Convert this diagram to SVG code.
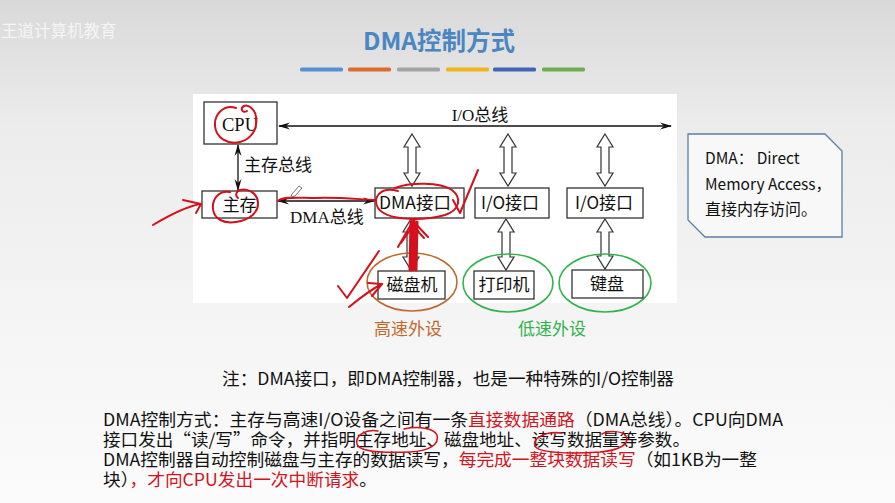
<svg xmlns="http://www.w3.org/2000/svg" width="895" height="503" viewBox="0 0 895 503">
<defs>
<linearGradient id="bg" x1="0" y1="0" x2="0" y2="1">
<stop offset="0" stop-color="#d9d9d9"/>
<stop offset="0.25" stop-color="#ececec"/>
<stop offset="0.7" stop-color="#f6f6f6"/>
<stop offset="1" stop-color="#fbfbfb"/>
</linearGradient>
<marker id="ah" viewBox="0 0 12 8" refX="11" refY="4" markerWidth="12" markerHeight="8" markerUnits="userSpaceOnUse" orient="auto-start-reverse">
<path d="M0,0.5 L12,4 L0,7.5 L4,4 z" fill="#111"/>
</marker>
</defs>
<style>
.ser{font-family:"Liberation Serif","Noto Sans CJK SC",serif;fill:#111}
.san{font-family:"Noto Sans CJK SC","Liberation Sans",sans-serif;fill:#111}
.box{fill:#fff;stroke:#333;stroke-width:1.3}
.bus{stroke:#111;stroke-width:1.3;fill:none}
.harr{fill:#fff;stroke:#333;stroke-width:1.2}
.red{fill:none;stroke:#d4101c;stroke-width:2;stroke-linecap:round;stroke-linejoin:round}
.redt{fill:none;stroke:#d4101c;stroke-width:1.5;stroke-linecap:round}
.body{font-family:"Noto Sans CJK SC","Liberation Sans",sans-serif;font-size:17px;fill:#111}
.rt{fill:#d0151f}
</style>
<rect width="895" height="503" fill="url(#bg)"/>
<text x="1" y="37" font-family="Noto Sans CJK SC,sans-serif" font-size="16.5" fill="#f5f5f5">王道计算机教育</text>

<g id="title">
<text x="439" y="50" text-anchor="middle" font-family="Noto Sans CJK SC,Liberation Sans,sans-serif" font-weight="bold" font-size="24.5" fill="#4a86c2">DMA控制方式</text>
<rect x="300" y="67.5" width="43" height="4" rx="1.5" fill="#5591cf"/>
<rect x="348" y="67.5" width="43" height="4" rx="1.5" fill="#de6a2e"/>
<rect x="397" y="67.5" width="43" height="4" rx="1.5" fill="#a3a3a3"/>
<rect x="446" y="67.5" width="43" height="4" rx="1.5" fill="#f0b41c"/>
<rect x="493" y="67.5" width="43" height="4" rx="1.5" fill="#3f66b6"/>
<rect x="542" y="67.5" width="43" height="4" rx="1.5" fill="#6cb04d"/>
</g>

<rect x="193" y="94" width="484" height="209" fill="#fff"/>

<g id="connectors">
<line class="bus" x1="279" y1="126" x2="671" y2="126" marker-start="url(#ah)" marker-end="url(#ah)"/>
<line class="bus" x1="238" y1="145" x2="238" y2="190" marker-start="url(#ah)" marker-end="url(#ah)"/>
<line class="bus" x1="278" y1="201" x2="374" y2="201" marker-start="url(#ah)" marker-end="url(#ah)"/>
<path class="harr" d="M412,134 L420,147 L416,147 L416,173 L420,173 L412,186 L404,173 L408,173 L408,147 L404,147 Z"/>
<path class="harr" d="M508,134 L516,147 L512,147 L512,173 L516,173 L508,186 L500,173 L504,173 L504,147 L500,147 Z"/>
<path class="harr" d="M605,134 L613,147 L609,147 L609,173 L613,173 L605,186 L597,173 L601,173 L601,147 L597,147 Z"/>
<path class="harr" d="M411,219 L419,232 L415,232 L415,257 L419,257 L411,270 L403,257 L407,257 L407,232 L403,232 Z"/>
<path class="harr" d="M506,219 L514,232 L510,232 L510,257 L514,257 L506,270 L498,257 L502,257 L502,232 L498,232 Z"/>
<path class="harr" d="M605,219 L613,232 L609,232 L609,256 L613,256 L605,269 L597,256 L601,256 L601,232 L597,232 Z"/>
<text class="ser" x="480" y="121" text-anchor="middle" font-size="17">I/O总线</text>
<text class="ser" x="244" y="171" font-size="17">主存总线</text>
<text class="ser" x="290" y="223" font-size="17">DMA总线</text>
</g>

<g id="cpu">
<rect class="box" x="204" y="102" width="73" height="42"/>
<text class="ser" x="240" y="131" text-anchor="middle" font-size="18.5">CPU</text>
</g>
<g id="memory">
<rect class="box" x="202" y="191" width="75" height="27"/>
<text class="ser" x="239.5" y="211" text-anchor="middle" font-size="17">主存</text>
</g>
<g id="dma-interface">
<rect class="box" x="375" y="188" width="89" height="30"/>
<text class="san" x="415" y="209" text-anchor="middle" font-size="17.5">DMA接口</text>
</g>
<g id="io-interface-1">
<rect class="box" x="475" y="188" width="74" height="30"/>
<text class="san" x="510" y="209" text-anchor="middle" font-size="17">I/O接口</text>
</g>
<g id="io-interface-2">
<rect class="box" x="567" y="188" width="76" height="30"/>
<text class="san" x="604" y="209" text-anchor="middle" font-size="17">I/O接口</text>
</g>
<g id="disk">
<ellipse cx="412" cy="282" rx="45" ry="29" fill="none" stroke="#c0692c" stroke-width="1.6"/>
<rect class="box" x="378" y="271" width="67" height="28"/>
<text class="ser" x="412" y="291" text-anchor="middle" font-size="17">磁盘机</text>
</g>
<g id="printer">
<ellipse cx="508" cy="283" rx="45" ry="29" fill="none" stroke="#2fb34c" stroke-width="1.6"/>
<rect class="box" x="474" y="271" width="60" height="28"/>
<text class="ser" x="504" y="291" text-anchor="middle" font-size="17">打印机</text>
</g>
<g id="keyboard">
<ellipse cx="605" cy="283" rx="46" ry="29" fill="none" stroke="#2fb34c" stroke-width="1.6"/>
<rect class="box" x="572" y="270" width="71" height="28"/>
<text class="san" x="607" y="290" text-anchor="middle" font-size="17">键盘</text>
</g>
<g id="labels">
<text x="408" y="335" text-anchor="middle" font-family="Noto Sans CJK SC,sans-serif" font-size="17" fill="#c0692c">高速外设</text>
<text x="552" y="335" text-anchor="middle" font-family="Noto Sans CJK SC,sans-serif" font-size="17" fill="#2fb34c">低速外设</text>
</g>

<g id="dma-note">
<polygon points="688,134 825,134 842,151 842,237 705,237 688,220" fill="#f8f8f8" stroke="#5a7fa5" stroke-width="1.3"/>
<text class="san" x="705" y="164" font-size="15.5">DMA：  Direct</text>
<text class="san" x="705" y="190" font-size="15.5">Memory Access，</text>
<text class="san" x="705" y="215" font-size="16">直接内存访问。</text>
</g>

<g id="annotations">
<path class="red" d="M236,108 C224,104 214,114 215,126 C216,138 228,145 240,142 C252,139 258,128 256,117 C255,109 248,104 244,106 C240,108 242,114 247,111"/>
<path class="red" d="M230,192 C218,190 212,200 213,209 C214,219 224,224 236,222 C250,220 259,212 258,202 C257,193 248,188 240,190 C236,191 235,196 238,198"/>
<path class="red" d="M153,225 C168,216 185,207 200,204"/>
<path class="red" d="M183,200 L201,204 L196,213"/>
<path class="red" d="M278,201 C282,196 300,198 315,198 C335,197 355,199 375,200"/>
<path class="red" d="M398,191 C380,186 372,198 378,208 C386,220 420,222 445,215 C460,210 462,198 452,190 C440,182 410,182 395,188"/>
<path class="red" d="M453,200 L460,213 L478,170"/>
<path d="M410,270 L411,222 M416,270 L417,222 M413,270 L414,220" stroke="#d4101c" stroke-width="3" fill="none" stroke-linecap="round"/>
<path class="red" d="M398,247 L413,221 L428,237" stroke-width="2.6"/>
<path class="red" d="M401,243 L413,226 L424,238" stroke-width="2"/>
<path class="red" d="M338,286 L347,298 L379,251"/>
<path class="red" d="M349,307 C360,298 370,290 382,284"/>
<path class="red" d="M368,283 L382,284 L372,296"/>
<path d="M292,194 L299,186 L302,188 L295,196 L291,197 Z" fill="#fff" stroke="#777" stroke-width="1"/>
</g>

<g id="note-line">
<text class="body" x="222" y="385" textLength="452" lengthAdjust="spacingAndGlyphs">注：DMA接口，即DMA控制器，也是一种特殊的I/O控制器</text>
</g>
<g id="paragraph">
<text class="body" x="103" y="426" textLength="680" lengthAdjust="spacingAndGlyphs">DMA控制方式：主存与高速I/O设备之间有一条<tspan class="rt">直接数据通路</tspan>（DMA总线）。CPU向DMA</text>
<text class="body" x="103" y="446" textLength="587" lengthAdjust="spacingAndGlyphs">接口发出“读/写”命令，并指明主存地址、磁盘地址、读写数据量等参数。</text>
<text class="body" x="103" y="466" textLength="654" lengthAdjust="spacingAndGlyphs">DMA控制器自动控制磁盘与主存的数据读写，<tspan class="rt">每完成一整块数据读写</tspan>（如1KB为一整</text>
<text class="body" x="103" y="486" textLength="274" lengthAdjust="spacingAndGlyphs">块）<tspan class="rt">，才向CPU发出一次中断请求</tspan>。</text>
<path class="redt" d="M378,431 C366,429 355,435 357,444 C359,452 385,453 410,452 C428,451 440,445 437,435 C434,428 418,426 404,429"/>
<path class="redt" d="M562,433 C546,431 532,438 535,446 C538,453 570,454 600,452 C620,450 630,444 626,436 C622,430 607,431 602,434"/>
</g>
</svg>
